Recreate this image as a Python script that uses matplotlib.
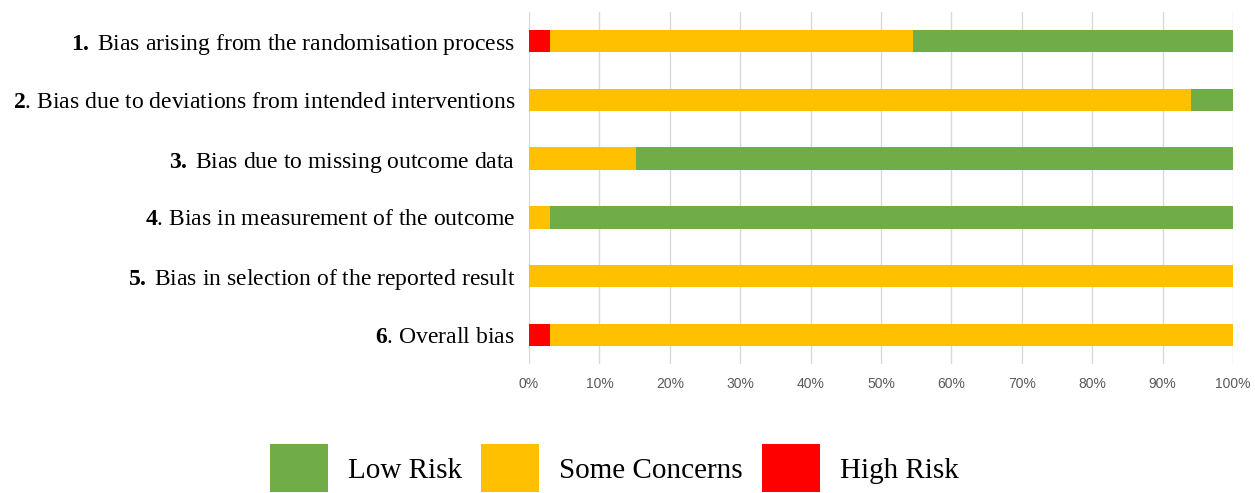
import matplotlib
matplotlib.use("Agg")
import matplotlib.pyplot as plt
from matplotlib.patches import Patch
import numpy as np

plt.rcParams['mathtext.fontset'] = 'custom'
plt.rcParams['mathtext.rm'] = 'Liberation Serif'
plt.rcParams['mathtext.bf'] = 'Liberation Serif:bold'

categories = [
    r"$\mathbf{1.\,}$Bias arising from the randomisation process",
    r"$\mathbf{2}$. Bias due to deviations from intended interventions",
    r"$\mathbf{3.\,}$Bias due to missing outcome data",
    r"$\mathbf{4}$. Bias in measurement of the outcome",
    r"$\mathbf{5.\,}$Bias in selection of the reported result",
    r"$\mathbf{6}$. Overall bias",
]
high_risk = [3.0, 0.0, 0.0, 0.0, 0.0, 3.0]
some_concerns = [51.5, 94.0, 15.2, 3.0, 100.0, 97.0]
low_risk = [45.5, 6.0, 84.8, 97.0, 0.0, 0.0]

series_names = ["Low Risk", "Some Concerns", "High Risk"]
c_low, c_some, c_high = "#70AD47", "#FFC000", "#FF0000"

fig = plt.figure(figsize=(12.55, 4.93), dpi=100)
ax = fig.add_axes([0.4215, 0.261, 0.561, 0.7155])

y = np.arange(len(categories))
h = np.array(high_risk)
s = np.array(some_concerns)
l = np.array(low_risk)
bh = 0.38
ax.barh(y, h, height=bh, color=c_high, zorder=3)
ax.barh(y, s, left=h, height=bh, color=c_some, zorder=3)
ax.barh(y, l, left=h + s, height=bh, color=c_low, zorder=3)

ax.set_ylim(len(categories) - 0.5, -0.5)
ax.set_xlim(0, 100)
ax.set_xticks(np.arange(0, 101, 10))
ax.set_xticklabels([f"{v}%" for v in range(0, 101, 10)], color="#595959",
                   fontsize=10, family="Liberation Sans")
ax.tick_params(axis='x', length=0, pad=9)
ax.set_yticks(y)
ax.set_yticklabels(categories, fontsize=17, family="Liberation Serif", color="#000000")
ax.tick_params(axis='y', length=0, pad=10)
ax.grid(axis='x', color="#D9D9D9", linewidth=1, zorder=0)
for sp in ax.spines.values():
    sp.set_visible(False)

handles = [Patch(facecolor=c_low), Patch(facecolor=c_some), Patch(facecolor=c_high)]
fig.legend(handles, series_names, loc='center', bbox_to_anchor=(0.4895, 0.05), ncol=3,
           frameon=False, prop={'family': 'Liberation Serif', 'size': 21},
           handlelength=2.0, handleheight=2.15, handletextpad=0.68, columnspacing=0.65,
           borderaxespad=0, borderpad=0)

fig.savefig("out.png", dpi=100)
